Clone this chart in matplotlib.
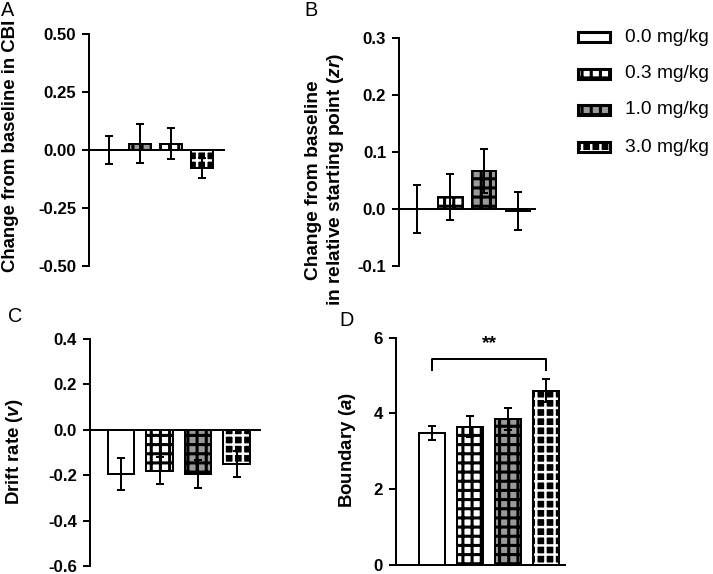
import matplotlib
matplotlib.use("Agg")
import matplotlib.pyplot as plt
from matplotlib.patches import Rectangle
from matplotlib.ticker import FormatStrFormatter

# ---------------- data ----------------
doses = ["0.0 mg/kg", "0.3 mg/kg", "1.0 mg/kg", "3.0 mg/kg"]

cbi_mean = [0.0, 0.027, 0.027, -0.079]
cbi_sem = [0.062, 0.083, 0.067, 0.043]

zr_mean = [0.0, 0.021, 0.067, -0.003]
zr_sem = [0.042, 0.040, 0.039, 0.033]

v_mean = [-0.193, -0.180, -0.193, -0.152]
v_sem = [0.070, 0.060, 0.062, 0.057]

a_mean = [3.49, 3.65, 3.85, 4.60]
a_sem = [0.18, 0.27, 0.29, 0.31]

cbi_ticks = [-0.50, -0.25, 0.00, 0.25, 0.50]
zr_ticks = [-0.1, 0.0, 0.1, 0.2, 0.3]
v_ticks = [-0.6, -0.4, -0.2, 0.0, 0.2, 0.4]
a_ticks = [0, 2, 4, 6]

sig_pair = (0, 3)
sig_label = "**"

# ---------------- style ----------------
W, H, DPI = 713, 574, 110
plt.rcParams["font.family"] = ["Liberation Sans", "DejaVu Sans"]
plt.rcParams["font.weight"] = "bold"
plt.rcParams["axes.unicode_minus"] = False
plt.rcParams["hatch.linewidth"] = 2.0
plt.rcParams["mathtext.fontset"] = "custom"
plt.rcParams["mathtext.it"] = "Liberation Sans:italic:bold"
plt.rcParams["mathtext.rm"] = "Liberation Sans:bold"
plt.rcParams["mathtext.bf"] = "Liberation Sans:bold"

GRAY = "#999999"
# (face colour, hatch colour, hatch, hatch linewidth)
styles = [("white", "white", None, 2.0),
          ("white", "black", "++", 2.0),
          (GRAY, "black", "++", 2.0),
          ("black", "white", "++", 1.6)]
styles_A = [styles[0], styles[2], styles[1], styles[3]]

LW = 1.3

fig = plt.figure(figsize=(W / DPI, H / DPI), dpi=DPI)


def px_axes(l, t, r, b):
    return fig.add_axes([l / W, 1 - b / H, (r - l) / W, (b - t) / H])


def hatched_bar(ax, x, h, width, sty):
    face, hcol, hatch, hlw = sty
    with plt.rc_context({"hatch.linewidth": hlw}):
        bars = ax.bar(x, h, width, color=face, edgecolor=hcol, hatch=hatch,
                      linewidth=0, zorder=2)
        for b in bars:
            if hasattr(b, "set_hatch_linewidth"):
                b.set_hatch_linewidth(hlw)
    ax.bar(x, h, width, fill=False, edgecolor="black", linewidth=LW, zorder=3)


def draw_panel(ax, means, sems, width, sty, ticks, fmt, xlim):
    x = list(range(len(means)))
    for i in x:
        hatched_bar(ax, x[i], means[i], width, sty[i])
    ax.errorbar(x, means, yerr=sems, fmt="none", ecolor="black",
                elinewidth=LW, capsize=2.4, capthick=LW, zorder=5)
    ax.set_xlim(*xlim)
    ax.set_ylim(ticks[0], ticks[-1])
    ax.set_yticks(ticks)
    ax.yaxis.set_major_formatter(FormatStrFormatter(fmt))
    ax.spines["top"].set_visible(False)
    ax.spines["right"].set_visible(False)
    ax.spines["left"].set_linewidth(LW)
    ax.spines["bottom"].set_linewidth(LW)
    ax.spines["bottom"].set_position(("data", 0))
    ax.spines["bottom"].set_zorder(6)
    ax.set_xticks([])
    ax.tick_params(axis="y", direction="out", length=4.6, width=LW,
                   labelsize=11, pad=3.8)
    for lbl in ax.get_yticklabels():
        lbl.set_fontweight("bold")


axA = px_axes(89, 34, 224, 266)
draw_panel(axA, cbi_mean, cbi_sem, 0.7, styles_A, cbi_ticks, "%.2f", (-0.65, 3.7))

axB = px_axes(399, 38.3, 535, 266)
draw_panel(axB, zr_mean, zr_sem, 0.72, styles, zr_ticks, "%.1f", (-0.526, 3.51))

axC = px_axes(90, 339, 260, 566)
draw_panel(axC, v_mean, v_sem, 0.7, styles, v_ticks, "%.1f", (-0.805, 3.61))

axD = px_axes(396, 337.7, 565, 565)
draw_panel(axD, a_mean, a_sem, 0.68, styles, a_ticks, "%d", (-0.945, 3.49))

# significance bracket in D
x0, x1 = sig_pair
yb, yt = 5.16, 5.43
axD.plot([x0, x0, x1, x1], [yb, yt, yt, yb], color="black", lw=LW,
         clip_on=False, zorder=6)
axD.text((x0 + x1) / 2, 5.62, sig_label, ha="center", va="bottom",
         fontsize=12.5, fontweight="bold")

# y labels
def ftext(xp, yp, s, **kw):
    fig.text(xp / W, 1 - yp / H, s, **kw)

ylab_kw = dict(rotation=90, ha="center", va="center", fontweight="bold")
ftext(11, 146, "Change from baseline in CBI", fontsize=12.2, **ylab_kw)
ftext(325, 180, "Change from baseline\nin relative starting point ($zr$)",
      multialignment="center", linespacing=1.2, fontsize=12.5, **ylab_kw)
ftext(15, 452, "Drift rate ($v$)", fontsize=12.2, **ylab_kw)
ftext(348, 450, "Boundary ($a$)", fontsize=12.2, **ylab_kw)

# panel letters
let_kw = dict(ha="center", va="center", fontsize=13, fontweight="normal")
ftext(8, 11, "A", **let_kw)
ftext(311, 11, "B", **let_kw)
ftext(15, 317, "C", **let_kw)
ftext(347, 321, "D", **let_kw)

# legend (overlay axes in pixel units)
axL = fig.add_axes([0, 0, 1, 1], zorder=10)
axL.set_xlim(0, W)
axL.set_ylim(H, 0)
axL.axis("off")
axL.patch.set_alpha(0)
row_y = [37, 74, 110, 147]
for i, lab in enumerate(doses):
    face, hcol, hatch, hlw = styles[i]
    cy = row_y[i]
    with plt.rc_context({"hatch.linewidth": hlw}):
        axL.add_patch(Rectangle((578, cy - 5), 32, 10, facecolor=face,
                                edgecolor=hcol, hatch=hatch, linewidth=0))
    axL.add_patch(Rectangle((578, cy - 5), 32, 10, fill=False,
                            edgecolor="black", linewidth=2.0))
    axL.text(625, cy, lab, ha="left", va="center", fontsize=12.5,
             fontweight="normal")

fig.savefig("out.png", dpi=DPI)
